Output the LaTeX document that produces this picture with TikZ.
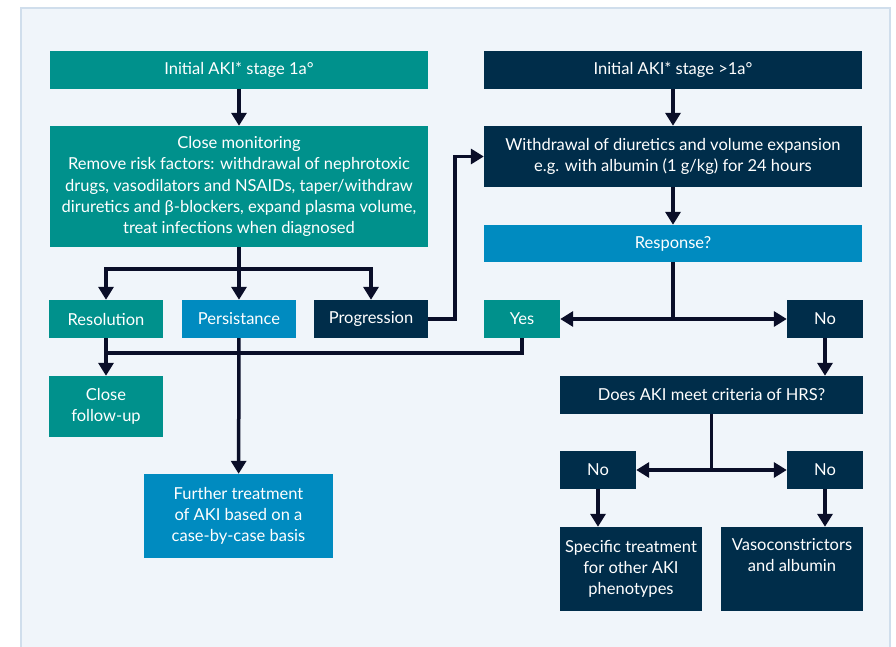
\documentclass[tikz,border=0pt]{standalone}
\usepackage{fontspec}
\setmainfont{Lato}
\usetikzlibrary{arrows.meta,calc}
\definecolor{tealc}{HTML}{00918C}
\definecolor{bluec}{HTML}{008BC0}
\definecolor{navyc}{HTML}{002D4A}
\definecolor{linkc}{HTML}{0A0E28}
\definecolor{panelc}{HTML}{F0F5FA}
\definecolor{panelb}{HTML}{D0DEEC}
\begin{document}
\begin{tikzpicture}[x=1pt,y=-1pt,
  box/.style={inner sep=0pt, text=white, align=center,
    font=\fontsize{16.5}{21.3}\selectfont},
  tealbox/.style={box, fill=tealc},
  bluebox/.style={box, fill=bluec},
  navybox/.style={box, fill=navyc},
  line/.style={draw=linkc, line width=3.5pt},
  arr/.style={line, -{Triangle[width=15pt,length=13pt]}}]
% page and panel
\useasboundingbox (0,0) rectangle (896,647);
\fill[white] (0,0) rectangle (896,647);
\draw[fill=panelc, draw=panelb, line width=1.2pt] (21,8) rectangle (890,660);

% left branch: stage 1a
\node[tealbox, minimum width=378pt, minimum height=38pt] (init1) at (239,70) {Initial AKI* stage 1a°};
\node[tealbox, minimum width=378pt, minimum height=121pt] (mon) at (239,186.5)
  {Close monitoring\\Remove risk factors: withdrawal of nephrotoxic\\drugs, vasodilators and NSAIDs, taper/withdraw\\diruretics and β-blockers, expand plasma volume,\\treat infections when diagnosed};
\node[tealbox, minimum width=114pt, minimum height=38pt] (reso) at (106,319) {Resolution};
\node[bluebox, minimum width=114pt, minimum height=38pt] (pers) at (239,319) {Persistance};
\node[navybox, minimum width=114pt, minimum height=38pt] (prog) at (371,319) {Progression};
\node[tealbox, minimum width=114pt, minimum height=61pt] (fu) at (106,406.5) {Close\\follow-up};
\node[bluebox, minimum width=189pt, minimum height=84pt] (further) at (238.5,516)
  {Further treatment\\of AKI based on a\\case-by-case basis};

% right branch: stage >1a
\node[navybox, minimum width=378pt, minimum height=38pt] (init2) at (673,70) {Initial AKI* stage >1a°};
\node[navybox, minimum width=378pt, minimum height=61pt] (withd) at (673,156.5)
  {Withdrawal of diuretics and volume expansion\\e.g. with albumin (1 g/kg) for 24 hours};
\node[bluebox, minimum width=378pt, minimum height=37pt] (resp) at (673,243.5) {Response?};
\node[tealbox, minimum width=76pt, minimum height=38pt] (yes) at (522,319) {Yes};
\node[navybox, minimum width=76pt, minimum height=38pt] (no1) at (825,319) {No};
\node[navybox, minimum width=303pt, minimum height=38pt] (hrs) at (711.5,395) {Does AKI meet criteria of HRS?};
\node[navybox, minimum width=76pt, minimum height=38pt] (no2) at (598,470) {No};
\node[navybox, minimum width=76pt, minimum height=38pt] (no3) at (825,470) {No};
\node[navybox, minimum width=142pt, minimum height=84pt] (spec) at (631,569)
  {Specific treatment\\for other AKI\\phenotypes};
\node[navybox, minimum width=142pt, minimum height=84pt] (vaso) at (792,569)
  {Vasoconstrictors\\and albumin\\\strut};

% branch points
\coordinate (split1) at (239,269);
\coordinate (split2) at (673,319);
\coordinate (split3) at (711.5,470);
\coordinate (join) at (106,353);

% connectors, left branch
\draw[arr] (init1) -- (mon);
\draw[arr] (mon.south) -- (pers.north);
\draw[arr] (split1) -| (reso.north);
\draw[arr] (split1) -| (prog.north);
\draw[arr] (reso) -- (fu);
\draw[arr] (pers) -- (further);
\draw[arr] (prog.east) -- ++(27,0) |- (withd.west);

% connectors, right branch
\draw[arr] (init2) -- (withd);
\draw[arr] (withd) -- (resp);
\draw[line] (resp.south) -- (split2);
\draw[arr] (split2) -- (yes.east);
\draw[arr] (split2) -- (no1.west);
\draw[line] (yes.south) |- (join);
\draw[arr] (no1.south) -- (no1.south |- hrs.north);
\draw[line] (hrs.south) -- (split3);
\draw[arr] (split3) -- (no2.east);
\draw[arr] (split3) -- (no3.west);
\draw[arr] (no2.south) -- (no2.south |- spec.north);
\draw[arr] (no3.south) -- (no3.south |- vaso.north);
\end{tikzpicture}
\end{document}
